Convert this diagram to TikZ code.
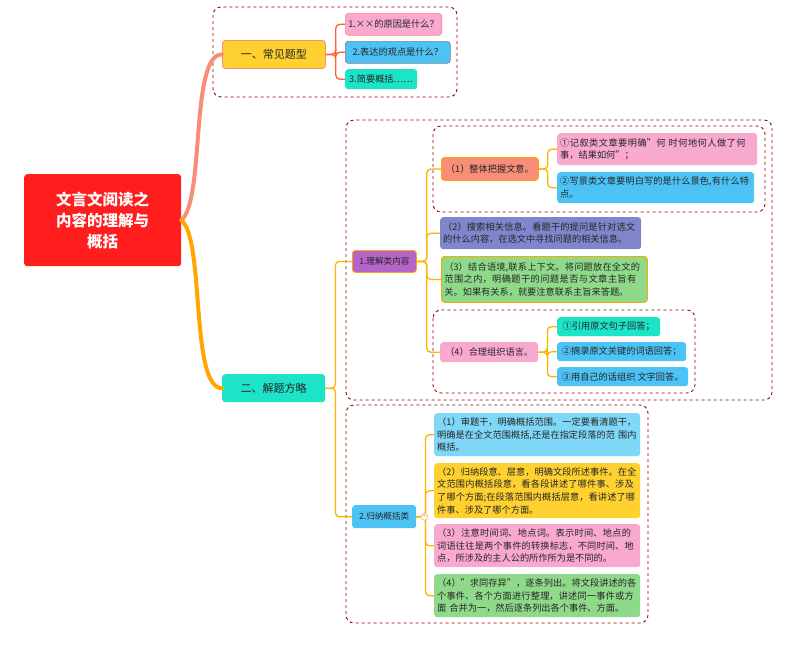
\documentclass[tikz,border=0pt]{standalone}
\usepackage{fontspec}
\setmainfont{Noto Sans CJK SC}
\XeTeXlinebreaklocale "zh"
\XeTeXlinebreakskip = 0pt plus 1pt
\begin{document}
\begin{tikzpicture}[x=1pt,y=-1pt,
  box/.style={rounded corners=3pt,anchor=north west,inner sep=3pt,font=\fontsize{9.2}{12.6}\selectfont,text=black!85,align=left},
  region/.style={draw=red!60!black,dashed,line width=0.9pt,rounded corners=8pt},
  conA/.style={draw=red!55!orange!80,line width=1.3pt,rounded corners=4pt},
  conB/.style={draw=orange!60!yellow,line width=1.3pt,rounded corners=4pt}]
\useasboundingbox (0,0) rectangle (794,657);
\definecolor{pinkc}{HTML}{F9A8CF}
\definecolor{bluec}{HTML}{4DC3F5}
\definecolor{tealc}{HTML}{1DE3C8}
\definecolor{salm}{HTML}{F98E78}
\definecolor{purp}{HTML}{B565C9}
\definecolor{peri}{HTML}{7F86CB}
\definecolor{greenc}{HTML}{8FDA8A}
\definecolor{yel}{HTML}{FFD130}
\definecolor{lblue}{HTML}{80D8F8}
% regions
\draw[region] (213,7) rectangle (457,97);
\draw[region] (346,120) rectangle (772,400);
\draw[region] (433,126) rectangle (765,212);
\draw[region] (433,310) rectangle (695,393);
\draw[region] (346,405) rectangle (648,623);
% root
\node[rounded corners=3pt,fill=red!85!pink,text=white,font=\fontsize{15.5}{21}\selectfont\bfseries,align=center,minimum width=157pt,minimum height=92pt,anchor=north west] (root) at (24,174) {文言文阅读之\\内容的理解与\\概括};
% main branches
\node[box,fill=yel,draw=salm,line width=0.8pt,minimum width=103pt,minimum height=28pt,align=center,font=\fontsize{11}{13}\selectfont] (b1) at (222,40) {一、常见题型};
\node[box,fill=tealc,minimum width=103pt,minimum height=28pt,align=center,font=\fontsize{11}{13}\selectfont] (b2) at (222,374) {二、解题方略};
\draw[line width=4pt,draw=salm,line cap=round] (root.east) .. controls (205,200) and (190,54) .. (b1.west);
\draw[line width=4pt,draw=orange!70!yellow,line cap=round] (root.east) .. controls (205,240) and (190,388) .. (b2.west);
% branch 1 leaves
\node[box,fill=pinkc,draw=salm,line width=0.6pt,minimum width=95pt,minimum height=22pt] (a1) at (345,13) {1.××的原因是什么？};
\node[box,fill=bluec,draw=gray,line width=0.6pt,minimum width=105pt,minimum height=22pt] (a2) at (345,41) {2.表达的观点是什么？};
\node[box,fill=tealc,minimum width=72pt,minimum height=20pt] (a3) at (345,69) {3.简要概括……};
\foreach \n in {a1,a2,a3} \draw[conA] (b1.east) -- ++(10,0) |- (\n.west);
% branch 2
\node[box,fill=purp,draw=orange!70!yellow,line width=0.8pt,minimum width=64pt,minimum height=22pt,inner sep=2pt,font=\fontsize{8.6}{11}\selectfont] (c1) at (352,250) {1.理解类内容};
\node[box,fill=bluec,minimum width=64pt,minimum height=23pt,inner sep=2pt,font=\fontsize{8.6}{11}\selectfont] (c2) at (352,505) {2.归纳概括类};
\foreach \n in {c1,c2} \draw[conB] (b2.east) -- ++(10,0) |- (\n.west);
% c1 children
\node[box,fill=salm,draw=orange!70!yellow,line width=0.8pt,minimum width=97pt,minimum height=23pt,align=center] (d1) at (441,157) {（1）整体把握文意。};
\node[box,fill=peri,text width=195pt,minimum height=32pt] (d2) at (440,217) {（2）搜索相关信息。看题干的提问是针对选文的什么内容，在选文中寻找问题的相关信息。};
\node[box,fill=greenc,draw=orange!70!yellow,line width=0.8pt,text width=200pt,minimum height=46pt] (d3) at (441,256) {（3）结合语境,联系上下文。将问题放在全文的范围之内，明确题干的问题是否与文章主旨有关。如果有关系，就要注意联系主旨来答题。};
\node[box,fill=pinkc,minimum width=98pt,minimum height=20pt,align=center] (d4) at (440,342) {（4）合理组织语言。};
\foreach \n in {d1,d2,d3,d4} \draw[conB] (c1.east) -- ++(10,0) |- (\n.west);
\node[box,fill=pinkc,text width=194pt,minimum height=32pt] (e1) at (557,133) {①记叙类文章要明确"何 时何地何人做了何事，结果如何"；};
\node[box,fill=bluec,text width=191pt,minimum height=31pt] (e2) at (557,172) {②写景类文章要明白写的是什么景色,有什么特点。};
\foreach \n in {e1,e2} \draw[conB] (d1.east) -- ++(9,0) |- (\n.west);
\node[box,fill=tealc,minimum width=103pt,minimum height=19pt] (f1) at (557,317) {①引用原文句子回答；};
\node[box,fill=bluec,minimum width=129pt,minimum height=19pt] (f2) at (557,342) {②摘录原文关键的词语回答；};
\node[box,fill=bluec,minimum width=131pt,minimum height=19pt] (f3) at (557,367) {③用自己的话组织 文字回答。};
\foreach \n in {f1,f2,f3} \draw[conB] (d4.east) -- ++(9,0) |- (\n.west);
% c2 children
\node[box,fill=lblue,text width=200pt,minimum height=43pt] (g1) at (434,413) {（1）审题干，明确概括范围。一定要看清题干，明确是在全文范围概括,还是在指定段落的范 围内概括。};
\node[box,fill=yel,text width=200pt,minimum height=55pt] (g2) at (434,463) {（2）归纳段意、层意，明确文段所述事件。在全文范围内概括段意，看各段讲述了哪件事、涉及了哪个方面;在段落范围内概括层意，看讲述了哪件事、涉及了哪个方面。};
\node[box,fill=pinkc,text width=200pt,minimum height=43pt] (g3) at (434,524) {（3）注意时间词、地点词。表示时间、地点的词语往往是两个事件的转换标志，不同时间、地点，所涉及的主人公的所作所为是不同的。};
\node[box,fill=greenc,text width=200pt,minimum height=43pt] (g4) at (434,574) {（4）"求同存异"，逐条列出。将文段讲述的各个事件、各个方面进行整理，讲述同一事件或方面 合并为一，然后逐条列出各个事件、方面。};
\foreach \n in {g1,g2,g3,g4} \draw[conB] (c2.east) -- ++(9,0) |- (\n.west);
\node[circle,draw=orange!70!yellow,fill=white,inner sep=0pt,minimum size=7pt,font=\tiny] (col) at ([xshift=8pt]c2.east) {$-$};
\end{tikzpicture}
\end{document}
